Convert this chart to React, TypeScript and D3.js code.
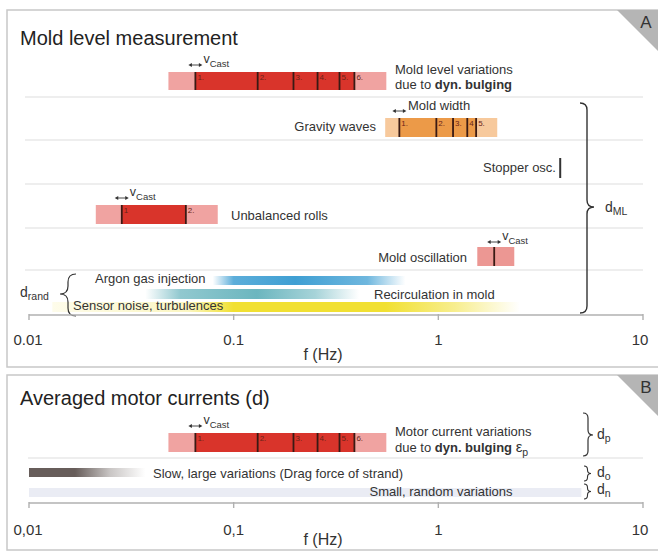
import React from 'react';
import * as d3 from 'd3';

// ---- data ----
const freqTicks = [0.01, 0.1, 1, 10];
const tickLabelsA = ['0.01', '0.1', '1', '10'];
const tickLabelsB = ['0,01', '0,1', '1', '10'];

const bulgingHarmonics = [0.065, 0.131, 0.196, 0.257, 0.329, 0.389];
const bulgingLabels = ['1.', '2.', '3.', '4.', '5.', '6.'];
const bulgingRange = [0.048, 0.557];

const gravityModes = [0.645, 0.978, 1.18, 1.385, 1.53];
const gravityLabels = ['1.', '2.', '3.', '4', '5.'];
const gravityRange = [0.55, 1.94];

const stopperFreq = 3.94;

const rollsHarmonics = [0.0284, 0.0584];
const rollsLabels = ['1', '2.'];
const rollsRange = [0.0212, 0.0836];

const moldOscFreq = [1.875];
const moldOscRange = [1.55, 2.35];

// gradient stops: [frequency, opacity]
const argonStops: [number, number][] = [[0.079, 0], [0.1, 0.85], [0.2, 1], [0.45, 0.75], [0.69, 0]];
const recircStops: [number, number][] = [[0.037, 0], [0.055, 0.75], [0.13, 1], [0.25, 0.6], [0.41, 0]];
const sensorStops: [number, number][] = [[0.013, 0.1], [0.06, 0.3], [0.1, 1], [0.55, 1], [1.2, 0.55], [2.5, 0]];
const dragStops: [number, number][] = [[0.01, 1], [0.0168, 1], [0.025, 0.35], [0.037, 0]];
const noiseRange = [0.01, 5.0];

const FONT = '"Liberation Sans", Arial, sans-serif';
const TXT = '#333';

const x = d3.scaleLog().domain([0.01, 10]).range([29, 643]);

function bracePath(bx: number, y1: number, y2: number, w: number, dir: number, ym?: number) {
  const m = ym ?? (y1 + y2) / 2;
  const sx = bx + (dir * w) / 2;
  const tx = bx + dir * w;
  const r = Math.min(w / 2, (m - y1) / 2, (y2 - m) / 2);
  return `M${bx},${y1} Q${sx},${y1} ${sx},${y1 + r} L${sx},${m - r} Q${sx},${m} ${tx},${m} Q${sx},${m} ${sx},${m + r} L${sx},${y2 - r} Q${sx},${y2} ${bx},${y2}`;
}

function Arrow({ cx, y }: { cx: number; y: number }) {
  const a = cx - 7, b = cx + 7;
  return (
    <g fill="#333" stroke="#333">
      <line x1={a + 2} x2={b - 2} y1={y} y2={y} strokeWidth={0.9} />
      <path d={`M${a},${y} L${a + 3.5},${y - 2} L${a + 3.5},${y + 2} Z`} stroke="none" />
      <path d={`M${b},${y} L${b - 3.5},${y - 2} L${b - 3.5},${y + 2} Z`} stroke="none" />
    </g>
  );
}

function VCast({ cx, y }: { cx: number; y: number }) {
  return (
    <g>
      <Arrow cx={cx} y={y + 2} />
      <text x={cx + 8} y={y} fontFamily={FONT} fontSize={12.5} fill={TXT}>
        v<tspan fontSize={9.5} dy={4}>Cast</tspan>
      </text>
    </g>
  );
}

function HarmonicBar({ range, freqs, labels, y, h, light, dark, lineColor }: any) {
  const x0 = x(range[0]), x1 = x(range[1]);
  const d0 = x(freqs[0]), d1 = x(freqs[freqs.length - 1]);
  return (
    <g>
      <rect x={x0} y={y} width={x1 - x0} height={h} fill={light} />
      {dark && <rect x={d0} y={y} width={d1 - d0} height={h} fill={dark} />}
      {freqs.map((f: number, i: number) => (
        <g key={i}>
          <line x1={x(f)} x2={x(f)} y1={y} y2={y + h} stroke={lineColor} strokeWidth={1.8} />
          {labels && (
            <text x={x(f) + 2} y={y + 8} fontFamily={FONT} fontSize={8} fill="#6a2318">{labels[i]}</text>
          )}
        </g>
      ))}
    </g>
  );
}

function Grad({ id, color, stops }: { id: string; color: string; stops: [number, number][] }) {
  const x1 = x(stops[0][0]);
  const x2 = x(stops[stops.length - 1][0]);
  return (
    <linearGradient id={id} gradientUnits="userSpaceOnUse" x1={x1} x2={x2} y1={0} y2={0}>
      {stops.map(([f, o], i) => (
        <stop key={i} offset={(x(f) - x1) / (x2 - x1)} stopColor={color} stopOpacity={o} />
      ))}
    </linearGradient>
  );
}

function GradBar({ id, stops, y, h }: { id: string; stops: [number, number][]; y: number; h: number }) {
  const x1 = x(stops[0][0]);
  const x2 = x(stops[stops.length - 1][0]);
  return <rect x={x1} y={y} width={x2 - x1} height={h} fill={`url(#${id})`} />;
}

function Axis({ y, labels, labelY, unitY }: { y: number; labels: string[]; labelY: number; unitY: number }) {
  return (
    <g>
      <line x1={x(0.01)} x2={x(10)} y1={y} y2={y} stroke="#b0b0b0" strokeWidth={1.4} />
      {freqTicks.map((t, i) => (
        <g key={i}>
          <line x1={x(t)} x2={x(t)} y1={y - 1} y2={y + 5} stroke="#b0b0b0" strokeWidth={1.4} />
          <text x={x(t) - (i === 0 ? 1 : i === 3 ? 3 : 0)} y={labelY} textAnchor="middle" fontFamily={FONT} fontSize={15} fill={TXT}>
            {labels[i]}
          </text>
        </g>
      ))}
      <text x={323} y={unitY} textAnchor="middle" fontFamily={FONT} fontSize={16} fill={TXT}>f (Hz)</text>
    </g>
  );
}

function DLabel({ x: lx, y, main, sub }: { x: number; y: number; main: string; sub: string }) {
  return (
    <text x={lx} y={y} fontFamily={FONT} fontSize={14} fill={TXT}>
      {main}
      <tspan fontSize={10.5} dy={3}>{sub}</tspan>
    </text>
  );
}

export default function App() {
  const dividersA = [97, 140, 184, 228, 270];
  const bulgeLight = '#f0a3a1';
  const bulgeDark = '#d9342b';
  const lineCol = '#3a1a14';
  return (
    <svg width={658} height={552} style={{ position: 'absolute', left: 0, top: 0, background: '#fff' }}>
      <defs>
        <Grad id="argon" color="#3f9fd3" stops={argonStops} />
        <Grad id="recirc" color="#6cb6bf" stops={recircStops} />
        <Grad id="sensor" color="#f1e032" stops={sensorStops} />
        <Grad id="drag" color="#675d5a" stops={dragStops} />
      </defs>

      {/* ---------- Panel A ---------- */}
      <path d="M700,10 L7,10 L7,367 L700,367" fill="none" stroke="#c8c8c8" strokeWidth={1.5} />
      <path d="M617,10 L658,10 L658,51 Z" fill="#b5b5b5" />
      <text x={646} y={28} textAnchor="middle" fontFamily={FONT} fontSize={17} fill={TXT}>A</text>
      <text x={20} y={45} fontFamily={FONT} fontSize={20} fill="#222">Mold level measurement</text>

      {dividersA.map((d, i) => (
        <line key={i} x1={25} x2={643} y1={d} y2={d} stroke="#e8e8e8" strokeWidth={1.3} />
      ))}

      {/* dyn. bulging */}
      <HarmonicBar range={bulgingRange} freqs={bulgingHarmonics} labels={bulgingLabels} y={72} h={18}
        light={bulgeLight} dark={bulgeDark} lineColor={lineCol} />
      <VCast cx={x(bulgingHarmonics[0])} y={63} />
      <text x={395} y={74} fontFamily={FONT} fontSize={13} fill={TXT}>Mold level variations</text>
      <text x={395} y={89} fontFamily={FONT} fontSize={13} fill={TXT}>
        due to <tspan fontWeight="bold">dyn. bulging</tspan>
      </text>

      {/* gravity waves */}
      <HarmonicBar range={gravityRange} freqs={gravityModes} labels={gravityLabels} y={118} h={19}
        light="#f7c99c" dark="#ec9a48" lineColor={lineCol} />
      <Arrow cx={x(gravityModes[0])} y={111} />
      <text x={408} y={110} fontFamily={FONT} fontSize={13} fill={TXT}>Mold width</text>
      <text x={376} y={131} textAnchor="end" fontFamily={FONT} fontSize={13} fill={TXT}>Gravity waves</text>

      {/* stopper oscillation */}
      <line x1={x(stopperFreq)} x2={x(stopperFreq)} y1={158} y2={178} stroke="#333" strokeWidth={2} />
      <text x={556} y={172} textAnchor="end" fontFamily={FONT} fontSize={13} fill={TXT}>Stopper osc.</text>

      {/* unbalanced rolls */}
      <HarmonicBar range={rollsRange} freqs={rollsHarmonics} labels={rollsLabels} y={205} h={19}
        light={bulgeLight} dark={bulgeDark} lineColor={lineCol} />
      <VCast cx={x(rollsHarmonics[0])} y={196} />
      <text x={231} y={220} fontFamily={FONT} fontSize={13} fill={TXT}>Unbalanced rolls</text>

      {/* mold oscillation */}
      <HarmonicBar range={moldOscRange} freqs={moldOscFreq} labels={null} y={247} h={19}
        light="#ec9793" dark={null} lineColor={lineCol} />
      <VCast cx={x(moldOscFreq[0])} y={240} />
      <text x={467} y={262} textAnchor="end" fontFamily={FONT} fontSize={13} fill={TXT}>Mold oscillation</text>

      {/* random components */}
      <GradBar id="argon" stops={argonStops} y={276} h={9} />
      <GradBar id="recirc" stops={recircStops} y={289} h={10} />
      <GradBar id="sensor" stops={sensorStops} y={302} h={10} />
      <text x={95} y={283} fontFamily={FONT} fontSize={13} fill={TXT}>Argon gas injection</text>
      <text x={374} y={299} fontFamily={FONT} fontSize={13} fill={TXT}>Recirculation in mold</text>
      <text x={73} y={310} fontFamily={FONT} fontSize={13} fill={TXT}>Sensor noise, turbulences</text>
      <path d={bracePath(76, 274, 316, 16, -1, 294)} fill="none" stroke="#333" strokeWidth={1.2} />
      <DLabel x={20} y={297} main="d" sub="rand" />

      <path d={bracePath(580, 103, 313, 14, 1, 207)} fill="none" stroke="#333" strokeWidth={1.4} />
      <DLabel x={605} y={212} main="d" sub="ML" />

      <Axis y={315} labels={tickLabelsA} labelY={345} unitY={360} />

      {/* ---------- Panel B ---------- */}
      <path d="M700,375 L7,375 L7,550 L700,550" fill="none" stroke="#c8c8c8" strokeWidth={1.5} />
      <path d="M617,375 L658,375 L658,416 Z" fill="#b5b5b5" />
      <text x={646} y={393} textAnchor="middle" fontFamily={FONT} fontSize={17} fill={TXT}>B</text>
      <text x={20} y={405} fontFamily={FONT} fontSize={20} fill="#222">Averaged motor currents (d)</text>

      <line x1={28} x2={643} y1={458} y2={458} stroke="#e8e8e8" strokeWidth={1.3} />

      <HarmonicBar range={bulgingRange} freqs={bulgingHarmonics} labels={bulgingLabels} y={433} h={19}
        light={bulgeLight} dark={bulgeDark} lineColor={lineCol} />
      <VCast cx={x(bulgingHarmonics[0])} y={424} />
      <text x={395} y={436} fontFamily={FONT} fontSize={13} fill={TXT}>Motor current variations</text>
      <text x={395} y={452} fontFamily={FONT} fontSize={13} fill={TXT}>
        due to <tspan fontWeight="bold">dyn. bulging</tspan> <tspan fontSize={15}>ε</tspan>
        <tspan fontSize={10.5} dy={4}>p</tspan>
      </text>

      <GradBar id="drag" stops={dragStops} y={468} h={9} />
      <text x={153} y={478} fontFamily={FONT} fontSize={13} fill={TXT}>Slow, large variations (Drag force of strand)</text>

      <rect x={x(noiseRange[0])} y={488} width={x(noiseRange[1]) - x(noiseRange[0])} height={9} fill="#eaecf4" />
      <text x={441} y={496} textAnchor="middle" fontFamily={FONT} fontSize={13} fill={TXT}>Small, random variations</text>

      <path d={bracePath(583, 413, 456, 10, 1, 435)} fill="none" stroke="#333" strokeWidth={1.2} />
      <DLabel x={597} y={439} main="d" sub="p" />
      <path d={bracePath(584, 466, 481, 7, 1)} fill="none" stroke="#333" strokeWidth={1.1} />
      <DLabel x={597} y={477} main="d" sub="o" />
      <path d={bracePath(584, 484, 499, 7, 1)} fill="none" stroke="#333" strokeWidth={1.1} />
      <DLabel x={597} y={494} main="d" sub="n" />

      <Axis y={503} labels={tickLabelsB} labelY={535} unitY={545} />
    </svg>
  );
}
